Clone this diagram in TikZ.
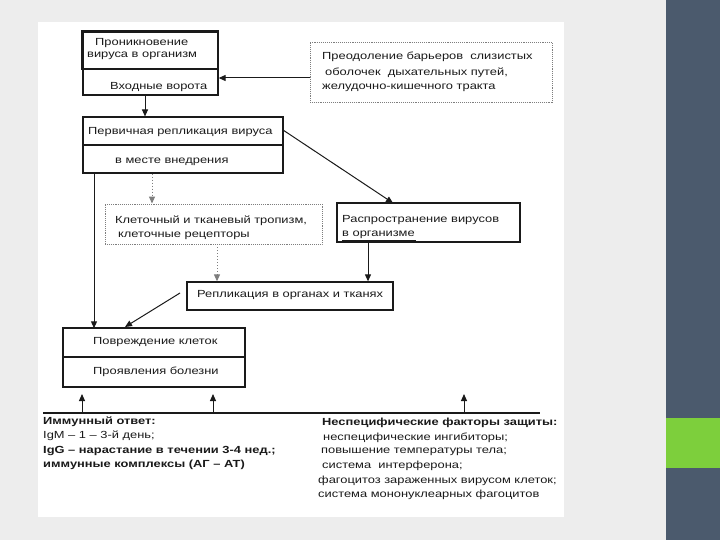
\documentclass[tikz,border=0pt]{standalone}
\usepackage{fontspec}
\setmainfont{Liberation Sans}[FakeStretch=1.25]
\usetikzlibrary{arrows.meta,calc}
\definecolor{slidebg}{HTML}{EDEDED}
\definecolor{band}{HTML}{4B5A6D}
\definecolor{accent}{HTML}{7DCF3C}
\definecolor{ink}{HTML}{1A1A1A}
\definecolor{soft}{HTML}{7E7E7E}
\begin{document}
\begin{tikzpicture}[x=1pt,y=-1pt,
  box/.style={draw=ink,line width=1.1pt,minimum width=#1,inner sep=0pt,rectangle},
  txt/.style={anchor=west,inner sep=0pt,font=\fontsize{10.3}{12}\selectfont,text=ink},
  btxt/.style={txt,font=\fontsize{10.3}{12}\selectfont\bfseries},
  arr/.style={draw=ink,line width=1pt,-{Triangle[length=7pt,width=6pt]}},
  darr/.style={draw=soft,line width=1pt,dotted,-{Triangle[length=7pt,width=6pt]}},
  dbox/.style={draw=soft,line width=0.9pt,densely dotted,rectangle,inner sep=0pt}]
\useasboundingbox (0,0) rectangle (720,540);
% slide background
\fill[slidebg] (0,0) rectangle (666,540);
\fill[white] (38,22) rectangle (564,517);
\fill[band] (666,0) rectangle (720,540);
\fill[accent] (666,418) rectangle (720,468);
% boxes
\node[box,line width=1.3pt,minimum width=135pt,minimum height=63pt] (b1) at (150.5,63.5) {};
\draw[ink,line width=1.8pt] (b1.north west) rectangle (218,69);
\node[dbox,minimum width=242pt,minimum height=60pt] (b2) at (431,72) {};
\node[box,minimum width=200pt,minimum height=56pt] (b3) at (183,145) {};
\draw[ink,line width=1.1pt] (83,145) -- (283,145);
\node[dbox,minimum width=217pt,minimum height=40pt] (b4) at (213.5,224) {};
\node[box,line width=1.7pt,minimum width=183pt,minimum height=39pt] (b5) at (428.5,222.5) {};
\node[box,line width=1.3pt,minimum width=206pt,minimum height=28pt] (b6) at (290,296) {};
\node[box,line width=1.4pt,minimum width=182pt,minimum height=59pt] (b7) at (154,357.5) {};
\draw[ink,line width=1.1pt] (63,357) -- (245,357);
% texts
\node[txt] (t1a) at (95,43) {Проникновение};
\node[txt] (t1b) at (87,56) {вируса в организм};
\node[txt] (t1c) at (110,87) {Входные ворота};
\node[txt] (t2a) at (322,57) {Преодоление барьеров\ \ слизистых};
\node[txt] (t2b) at (325,73) {оболочек\ \ дыхательных путей,};
\node[txt] (t2c) at (322,88) {желудочно-кишечного тракта};
\node[txt] (t3a) at (88,132) {Первичная репликация вируса};
\node[txt] (t3b) at (115,162) {в месте внедрения};
\node[txt] (t4a) at (115,221) {Клеточный и тканевый тропизм,};
\node[txt] (t4b) at (118,236) {клеточные рецепторы};
\node[txt] (t5a) at (342,220) {Распространение вирусов};
\node[txt] (t5b) at (342,235) {в организме};
\draw[ink,line width=0.8pt] (342,240) -- (416,240);
\node[txt] (t6) at (197,295) {Репликация в органах и тканях};
\node[txt] (t7a) at (93,342) {Повреждение клеток};
\node[txt] (t7b) at (93,372) {Проявления болезни};
\node[btxt] (ia) at (43,422) {Иммунный ответ:};
\node[txt] (ib) at (43,436) {IgM – 1 – 3-й день;};
\node[btxt] (ic) at (43,451) {IgG – нарастание в течении 3-4 нед.;};
\node[btxt] (id) at (43,465) {иммунные комплексы (АГ – АТ)};
\node[btxt] (na) at (322,423) {Неспецифические факторы защиты:};
\node[txt] (nb) at (323,438) {неспецифические ингибиторы;};
\node[txt] (nc) at (321,452) {повышение температуры тела;};
\node[txt] (nd) at (322,466) {система\ \ интерферона;};
\node[txt] (ne) at (318,481) {фагоцитоз зараженных вирусом клеток;};
\node[txt] (nf) at (318,495) {система мононуклеарных фагоцитов};
% column coordinates
\coordinate (c145) at (145,0);
\coordinate (c152) at (152,0);
\coordinate (c94) at (94,0);
\coordinate (c217) at (217,0);
\coordinate (c368) at (368,0);
\coordinate (r78) at (0,78);
\coordinate (lineL) at (43,413);
\coordinate (lineR) at (540,413);
\coordinate (u1) at (82,413);
\coordinate (u2) at (213,413);
\coordinate (u3) at (464,413);
\coordinate (u1t) at (82,394);
\coordinate (u2t) at (213,394);
\coordinate (u3t) at (464,394);
\coordinate (d1) at (125,327);
\coordinate (d0) at (180,293);
\coordinate (s3) at (283,130);
\coordinate (s5) at (393,203);
% connectors
\draw[arr] (b2.west |- r78) -- (b1.east |- r78);
\draw[arr] (b1.south -| c145) -- (b3.north -| c145);
\draw[arr] (s3) -- (s5);
\draw[darr] (b3.south -| c152) -- (b4.north -| c152);
\draw[arr] (b3.south -| c94) -- ([yshift=-1pt]b7.north -| c94);
\draw[darr] (b4.south -| c217) -- (b6.north -| c217);
\draw[arr] (b5.south -| c368) -- (b6.north -| c368);
\draw[arr] (d0) -- (d1);
\draw[ink,line width=1.2pt] (lineL) -- (lineR);
\draw[arr] (u1) -- (u1t);
\draw[arr] (u2) -- (u2t);
\draw[arr] (u3) -- (u3t);
\end{tikzpicture}
\end{document}
